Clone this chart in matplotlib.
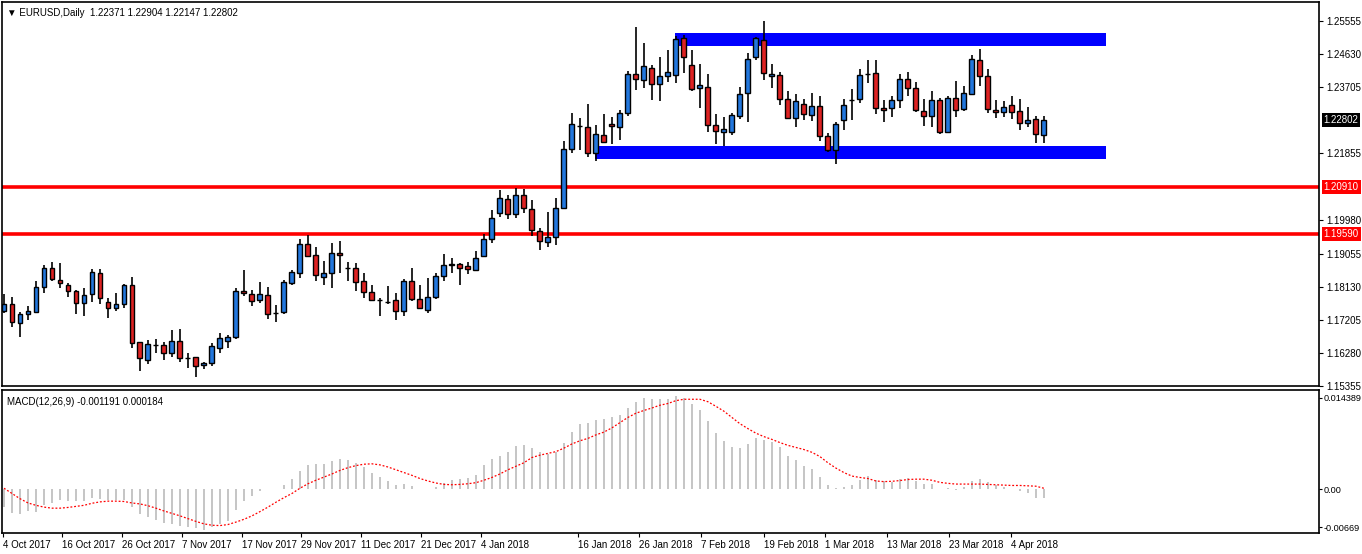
import numpy as np
import matplotlib
matplotlib.use("Agg")
import matplotlib.pyplot as plt

plt.rcParams['font.family'] = ['Liberation Sans', 'DejaVu Sans']

# EURUSD daily candles
opens = [1.1745, 1.1765, 1.1712, 1.1737, 1.1743, 1.1812, 1.1865, 1.1832, 1.1818, 1.1801,
         1.1768, 1.1793, 1.1851, 1.1771, 1.1754, 1.1765, 1.1818, 1.1658, 1.1608, 1.1650,
         1.1650, 1.1628, 1.1661, 1.1614, 1.1617, 1.1594, 1.1600, 1.1642, 1.1661, 1.1672,
         1.1801, 1.1793, 1.1776, 1.1790, 1.1740, 1.1743, 1.1824, 1.1851, 1.1933, 1.1902,
         1.1840, 1.1851, 1.1907, 1.1866, 1.1865, 1.1829, 1.1798, 1.1776, 1.1771, 1.1776,
         1.1745, 1.1829, 1.1779, 1.1748, 1.1785, 1.1843, 1.1874, 1.1876, 1.1871, 1.1860,
         1.1899, 1.1947, 1.2019, 1.2058, 1.2016, 1.2069, 1.2030, 1.1969, 1.1938, 1.1952,
         1.2033, 1.2198, 1.2262, 1.2259, 1.2187, 1.2237, 1.2268, 1.2259, 1.2298, 1.2407,
         1.2391, 1.2424, 1.2379, 1.2402, 1.2405, 1.2508, 1.2433, 1.2368, 1.2371, 1.2265,
         1.2245, 1.2245, 1.2290, 1.2354, 1.2455, 1.2502, 1.2402, 1.2405, 1.2338, 1.2284,
         1.2324, 1.2293, 1.2318, 1.2234, 1.2195, 1.2279, 1.2335, 1.2338, 1.2407, 1.2410,
         1.2312, 1.2312, 1.2335, 1.2393, 1.2368, 1.2304, 1.2290, 1.2335, 1.2245, 1.2340,
         1.2310, 1.2351, 1.2446, 1.2402, 1.2307, 1.2301, 1.2321, 1.2304, 1.2270, 1.2282,
         1.2237]
highs = [1.1793, 1.1785, 1.1743, 1.1759, 1.1829, 1.1874, 1.1882, 1.1879, 1.1824, 1.1804,
         1.1810, 1.1863, 1.1863, 1.1782, 1.1795, 1.1821, 1.1840, 1.1658, 1.1664, 1.1667,
         1.1658, 1.1693, 1.1695, 1.1628, 1.1617, 1.1603, 1.1656, 1.1684, 1.1678, 1.1810,
         1.1860, 1.1804, 1.1826, 1.1812, 1.1762, 1.1832, 1.1860, 1.1947, 1.1958, 1.1924,
         1.1885, 1.1935, 1.1941, 1.1882, 1.1879, 1.1851, 1.1818, 1.1782, 1.1815, 1.1795,
         1.1835, 1.1865, 1.1818, 1.1838, 1.1851, 1.1904, 1.1893, 1.1879, 1.1882, 1.1913,
         1.1960, 1.2028, 1.2083, 1.2069, 1.2089, 1.2086, 1.2055, 1.1977, 1.2022, 1.2061,
         1.2220, 1.2298, 1.2284, 1.2323, 1.2265, 1.2295, 1.2287, 1.2307, 1.2416, 1.2539,
         1.2494, 1.2432, 1.2455, 1.2474, 1.2514, 1.2516, 1.2474, 1.2435, 1.2407, 1.2295,
         1.2287, 1.2298, 1.2371, 1.2466, 1.2511, 1.2555, 1.2435, 1.2413, 1.2360, 1.2351,
         1.2338, 1.2354, 1.2346, 1.2242, 1.2273, 1.2338, 1.2366, 1.2421, 1.2446, 1.2446,
         1.2335, 1.2346, 1.2407, 1.2413, 1.2385, 1.2338, 1.2360, 1.2340, 1.2346, 1.2388,
         1.2374, 1.2460, 1.2477, 1.2421, 1.2335, 1.2332, 1.2346, 1.2338, 1.2315, 1.2290,
         1.2290]
lows = [1.1740, 1.1700, 1.1672, 1.1720, 1.1740, 1.1795, 1.1829, 1.1810, 1.1785, 1.1737,
        1.1731, 1.1771, 1.1765, 1.1726, 1.1745, 1.1754, 1.1642, 1.1577, 1.1597, 1.1628,
        1.1608, 1.1617, 1.1603, 1.1586, 1.1561, 1.1583, 1.1591, 1.1628, 1.1642, 1.1667,
        1.1787, 1.1759, 1.1768, 1.1723, 1.1714, 1.1737, 1.1818, 1.1837, 1.1896, 1.1829,
        1.1818, 1.1810, 1.1851, 1.1829, 1.1801, 1.1782, 1.1773, 1.1731, 1.1765, 1.1720,
        1.1731, 1.1773, 1.1751, 1.1740, 1.1779, 1.1829, 1.1851, 1.1818, 1.1849, 1.1857,
        1.1899, 1.1935, 1.2008, 1.2002, 1.2005, 1.2019, 1.1955, 1.1916, 1.1924, 1.1930,
        1.2030, 1.2187, 1.2195, 1.2176, 1.2164, 1.2215, 1.2212, 1.2223, 1.2290, 1.2363,
        1.2368, 1.2335, 1.2332, 1.2385, 1.2382, 1.2410, 1.2360, 1.2312, 1.2245, 1.2212,
        1.2206, 1.2237, 1.2282, 1.2273, 1.2446, 1.2391, 1.2368, 1.2321, 1.2282, 1.2259,
        1.2279, 1.2276, 1.2220, 1.2190, 1.2156, 1.2251, 1.2279, 1.2326, 1.2382, 1.2296,
        1.2273, 1.2287, 1.2312, 1.2346, 1.2301, 1.2262, 1.2259, 1.2240, 1.2242, 1.2287,
        1.2304, 1.2349, 1.2374, 1.2298, 1.2284, 1.2287, 1.2282, 1.2251, 1.2259, 1.2214,
        1.2215]
closes = [1.1765, 1.1714, 1.1737, 1.1745, 1.1812, 1.1865, 1.1835, 1.1824, 1.1801, 1.1768,
          1.1790, 1.1854, 1.1782, 1.1754, 1.1765, 1.1818, 1.1656, 1.1614, 1.1653, 1.1651,
          1.1628, 1.1661, 1.1614, 1.1613, 1.1591, 1.1600, 1.1647, 1.1670, 1.1672, 1.1801,
          1.1795, 1.1773, 1.1793, 1.1737, 1.1740, 1.1826, 1.1854, 1.1933, 1.1899, 1.1846,
          1.1851, 1.1907, 1.1902, 1.1865, 1.1826, 1.1798, 1.1776, 1.1775, 1.1770, 1.1745,
          1.1829, 1.1779, 1.1754, 1.1785, 1.1843, 1.1874, 1.1875, 1.1865, 1.1863, 1.1893,
          1.1947, 1.2005, 1.2061, 1.2016, 1.2069, 1.2033, 1.1972, 1.1941, 1.1952, 1.2033,
          1.2198, 1.2268, 1.2263, 1.2187, 1.2240, 1.2217, 1.2262, 1.2298, 1.2407, 1.2393,
          1.2430, 1.2379, 1.2402, 1.2413, 1.2505, 1.2455, 1.2366, 1.2377, 1.2265, 1.2248,
          1.2254, 1.2293, 1.2351, 1.2449, 1.2508, 1.2410, 1.2407, 1.2338, 1.2284, 1.2332,
          1.2296, 1.2318, 1.2234, 1.2195, 1.2268, 1.2321, 1.2336, 1.2405, 1.2408, 1.2312,
          1.2307, 1.2335, 1.2393, 1.2368, 1.2307, 1.2290, 1.2335, 1.2245, 1.2340, 1.2307,
          1.2354, 1.2449, 1.2402, 1.2310, 1.2301, 1.2315, 1.2301, 1.2270, 1.2279, 1.2240,
          1.2280]

# MACD(12,26,9) main histogram and signal line
macd_main = [-0.00274, -0.00364, -0.00379, -0.00327, -0.00337, -0.00242, -0.00200, -0.00169, -0.00179, -0.00179,
             -0.00179, -0.00126, -0.00148, -0.00158, -0.00158, -0.00158, -0.00264, -0.00379, -0.00416, -0.00469,
             -0.00516, -0.00522, -0.00553, -0.00574, -0.00590, -0.00611, -0.00574, -0.00522, -0.00485, -0.00311,
             -0.00179, -0.00105, -0.00021, 0.00005, 0.00010, 0.00069, 0.00163, 0.00279, 0.00369, 0.00379,
             0.00379, 0.00422, 0.00453, 0.00443, 0.00401, 0.00332, 0.00253, 0.00190, 0.00126, 0.00069,
             0.00079, 0.00047, 0.00005, 0.00005, 0.00037, 0.00095, 0.00137, 0.00158, 0.00174, 0.00216,
             0.00374, 0.00464, 0.00506, 0.00569, 0.00648, 0.00664, 0.00622, 0.00559, 0.00532, 0.00559,
             0.00701, 0.00859, 0.00980, 0.00996, 0.01043, 0.01059, 0.01091, 0.01123, 0.01233, 0.01312,
             0.01375, 0.01360, 0.01360, 0.01360, 0.01407, 0.01386, 0.01286, 0.01202, 0.01028, 0.00854,
             0.00727, 0.00632, 0.00617, 0.00680, 0.00775, 0.00743, 0.00711, 0.00632, 0.00506, 0.00443,
             0.00348, 0.00300, 0.00190, 0.00063, 0.00021, 0.00032, 0.00063, 0.00142, 0.00206, 0.00142,
             0.00126, 0.00111, 0.00158, 0.00174, 0.00126, 0.00079, 0.00079, 0.00000, 0.00021, -0.00005,
             0.00032, 0.00126, 0.00163, 0.00111, 0.00063, 0.00032, 0.00005, -0.00021, -0.00063, -0.00126,
             -0.00126]
macd_signal = [0.00016, -0.00063, -0.00142, -0.00206, -0.00242, -0.00269, -0.00285, -0.00285, -0.00274, -0.00258,
               -0.00242, -0.00211, -0.00190, -0.00179, -0.00179, -0.00184, -0.00206, -0.00221, -0.00248, -0.00285,
               -0.00327, -0.00364, -0.00401, -0.00443, -0.00485, -0.00522, -0.00543, -0.00548, -0.00532, -0.00495,
               -0.00453, -0.00401, -0.00337, -0.00269, -0.00195, -0.00126, -0.00063, 0.00016, 0.00084, 0.00137,
               0.00184, 0.00232, 0.00285, 0.00327, 0.00358, 0.00379, 0.00385, 0.00369, 0.00337, 0.00295,
               0.00253, 0.00211, 0.00163, 0.00126, 0.00095, 0.00074, 0.00069, 0.00074, 0.00084, 0.00100,
               0.00137, 0.00179, 0.00232, 0.00295, 0.00348, 0.00401, 0.00480, 0.00516, 0.00543, 0.00569,
               0.00622, 0.00685, 0.00733, 0.00769, 0.00822, 0.00864, 0.00928, 0.01007, 0.01086, 0.01149,
               0.01191, 0.01228, 0.01270, 0.01296, 0.01339, 0.01360, 0.01360, 0.01360, 0.01323, 0.01254,
               0.01180, 0.01086, 0.00991, 0.00917, 0.00848, 0.00796, 0.00754, 0.00706, 0.00664, 0.00632,
               0.00601, 0.00559, 0.00495, 0.00401, 0.00321, 0.00253, 0.00200, 0.00179, 0.00163, 0.00126,
               0.00116, 0.00121, 0.00132, 0.00148, 0.00153, 0.00153, 0.00137, 0.00105, 0.00090, 0.00079,
               0.00079, 0.00079, 0.00079, 0.00074, 0.00069, 0.00063, 0.00058, 0.00058, 0.00053, 0.00047,
               0.00016]

date_labels = ["4 Oct 2017", "16 Oct 2017", "26 Oct 2017", "7 Nov 2017", "17 Nov 2017",
               "29 Nov 2017", "11 Dec 2017", "21 Dec 2017", "4 Jan 2018", "16 Jan 2018",
               "26 Jan 2018", "7 Feb 2018", "19 Feb 2018", "1 Mar 2018", "13 Mar 2018",
               "23 Mar 2018", "4 Apr 2018"]
date_pos = [-0.1, 7.25, 14.75, 22.25, 29.75, 37.1, 44.6, 52.1, 59.6, 71.7,
            79.4, 87.2, 95.0, 102.6, 110.4, 118.1, 125.9]

price_ticks = [1.25555, 1.24630, 1.23705, 1.21855, 1.19980, 1.19055, 1.18130, 1.17205, 1.16280, 1.15355]
levels = [1.20910, 1.19590]
last_price = 1.22802

# supply / demand zones: (start bar, end bar, low, high)
zones = [(83.9, 137.75, 1.2486, 1.2522), (73.9, 137.75, 1.2170, 1.2206)]

W, H = 1362, 554
fig = plt.figure(figsize=(W / 100, H / 100), dpi=100)
ax = fig.add_axes([2 / W, (H - 386) / H, 1317 / W, 384 / H])
ax2 = fig.add_axes([2 / W, (H - 533) / H, 1317 / W, 143 / H])

blue = "#2277DD"
red = "#DD2222"
n = len(closes)
x = np.arange(n)

for lo, hi, ybot, ytop in zones:
    ax.fill_between([lo, hi], ybot, ytop, color="#0000FF", lw=0, zorder=1)
for lv in levels:
    ax.axhline(lv, color="#FF0000", lw=2.6, zorder=1)

ax.vlines(x, lows, highs, color="black", lw=1.2, zorder=2)
o = np.array(opens)
c = np.array(closes)
cols = [blue if cc >= oo else red for oo, cc in zip(o, c)]
ax.bar(x, np.maximum(np.abs(c - o), 0.00003), bottom=np.minimum(o, c), width=0.62,
       color=cols, edgecolor="black", lw=1.0, zorder=3)

fs = 7
ax.set_xlim(-0.25, 164.4)
ax.set_ylim(1.1535, 1.2609)
ax.yaxis.tick_right()
ax.set_yticks(price_ticks)
ax.set_yticklabels([f"{t:.5f}" for t in price_ticks])
ax.set_xticks([])
ax.tick_params(axis="y", labelsize=fs, length=3, pad=2)

def price_box(y, bg):
    ax.text(1.0035, y, f"{y:.5f}", transform=ax.get_yaxis_transform(), ha="left", va="center",
            fontsize=fs, color="white",
            bbox=dict(boxstyle="square,pad=0.2", fc=bg, ec="none"))

price_box(last_price, "black")
for lv in levels:
    price_box(lv, "#FF0000")

ax.text(0.004, 0.985, "\u25bc EURUSD,Daily  1.22371 1.22904 1.22147 1.22802", transform=ax.transAxes,
        ha="left", va="top", fontsize=fs)

# MACD panel
ax2.vlines(x, 0, macd_main, color="#C0C0C0", lw=1.3)
ax2.plot(x, macd_signal, color="#FF0000", lw=0.9, ls=(0, (1.5, 1.5)))
ax2.set_xlim(-0.25, 164.4)
ax2.set_ylim(-0.0066, 0.0150)
ax2.yaxis.tick_right()
ax2.set_yticks([0.0138, 0.0, -0.0057])
ax2.set_yticklabels(["0.014389", "0.00", "-0.00669"])
ax2.tick_params(axis="y", labelsize=6.6, length=2, pad=1)
ax2.set_xticks(date_pos)
ax2.set_xticklabels(date_labels, ha="left")
ax2.tick_params(axis="x", labelsize=fs, length=3, pad=2)
ax2.text(0.004, 0.95, "MACD(12,26,9) -0.001191 0.000184", transform=ax2.transAxes,
         ha="left", va="top", fontsize=fs)

for a in (ax, ax2):
    for s in a.spines.values():
        s.set_linewidth(1.2)

fig.savefig("out.png", dpi=100)
